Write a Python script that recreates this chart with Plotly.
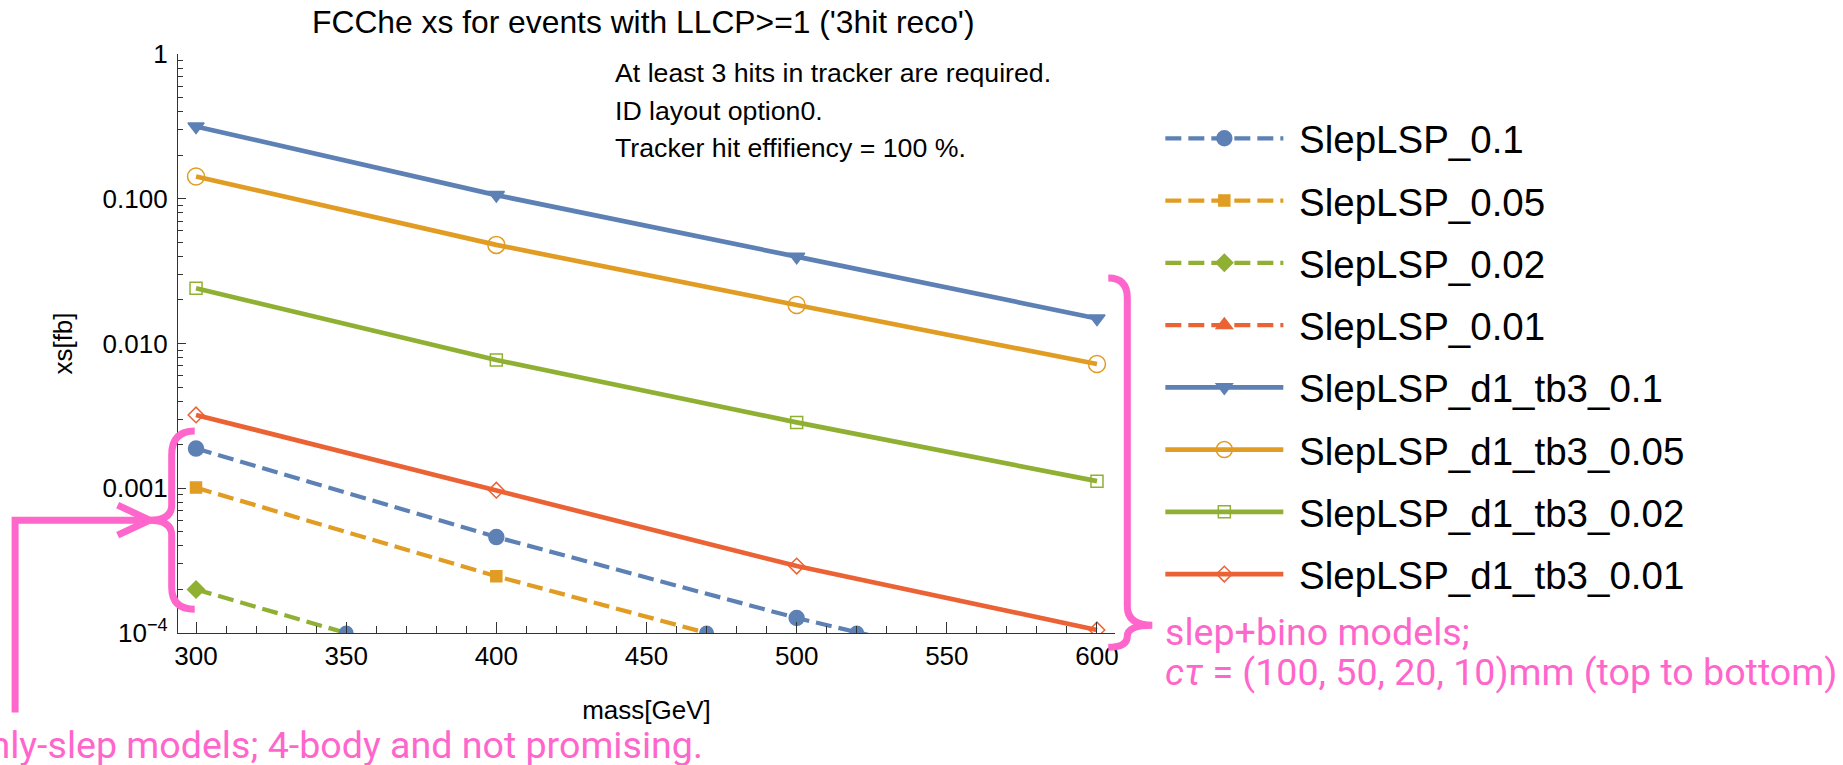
import plotly.graph_objects as go

# ---------------- data ----------------
mass = [300, 400, 500, 600]

slep_0_1 = [1.88e-3, 4.6e-4, 1.27e-4, 4.1e-5]
slep_0_05 = [1.01e-3, 2.47e-4, 6.8e-5, None]
slep_0_02 = [2.0e-4, 5.0e-5, None, None]
slep_0_01 = [None, None, None, None]

d1tb3_0_1 = [0.316, 0.106, 0.0398, 0.0149]
d1tb3_0_05 = [0.1425, 0.048, 0.01845, 0.00721]
d1tb3_0_02 = [0.0241, 0.00769, 0.00285, 0.00112]
d1tb3_0_01 = [0.00321, 9.7e-4, 2.9e-4, 1.05e-4]

axis_hit_mass = [350, 470, 520]
axis_floor = 1e-4

series_names = ["SlepLSP_0.1", "SlepLSP_0.05", "SlepLSP_0.02", "SlepLSP_0.01",
                "SlepLSP_d1_tb3_0.1", "SlepLSP_d1_tb3_0.05",
                "SlepLSP_d1_tb3_0.02", "SlepLSP_d1_tb3_0.01"]
series_values = [slep_0_1, slep_0_05, slep_0_02, slep_0_01,
                 d1tb3_0_1, d1tb3_0_05, d1tb3_0_02, d1tb3_0_01]

y_tickvals = [1e-4, 1e-3, 1e-2, 1e-1, 1]
y_ticktext = ["10<sup>\u22124</sup>", "0.001", "0.010", "0.100", "1"]
x_tickvals = [300, 350, 400, 450, 500, 550, 600]

# ---------------- styles ----------------
BLUE, ORANGE, GREEN, RED = "#5E81B5", "#E19C24", "#8FB032", "#EB6235"
PINK = "#FF66CC"
colors = [BLUE, ORANGE, GREEN, RED, BLUE, ORANGE, GREEN, RED]
symbols = ["circle", "square", "diamond", "triangle-up",
           "triangle-down", "circle-open", "square-open", "diamond-open"]
msizes = [15, 11, 13, 14, 14, 17, 12, 12]
dashes = ["16px,7px"] * 4 + ["solid"] * 4
lwidths = [4.2] * 4 + [4.7] * 4

W, H = 1843, 765
L, R, T, B = 178.3, 1114.7, 54.3, 632.7
PW, PH = R - L, B - T


def px(x):
    return (x - L) / PW


def py(y):
    return (B - y) / PH


def path(points_cmds):
    out = []
    for cmd, *pts in points_cmds:
        s = cmd
        for (x, y) in pts:
            s += f" {px(x):.5f},{py(y):.5f}"
        out.append(s)
    return " ".join(out)


fig = go.Figure()

for i, (name, vals) in enumerate(zip(series_names, series_values)):
    fig.add_trace(go.Scatter(
        x=mass, y=vals, name="\u00a0" + name, mode="lines+markers",
        legendgroup=f"g{i}",
        line=dict(color=colors[i], width=lwidths[i], dash=dashes[i]),
        marker=dict(symbol=symbols[i], size=msizes[i], color=colors[i],
                    line=dict(color=colors[i], width=1.5)),
        connectgaps=False,
    ))

fig.add_trace(go.Scatter(
    x=axis_hit_mass, y=[axis_floor] * len(axis_hit_mass), mode="markers",
    showlegend=False, marker=dict(symbol="circle", size=15, color=BLUE)))

AX_FONT = dict(family="Liberation Sans, Arial, sans-serif", size=26, color="black")
INFO_FONT = dict(family="Liberation Sans, Arial, sans-serif", size=26.7, color="black")
PINK_FONT = dict(family="Roboto, sans-serif", size=37.6, color=PINK)

fig.update_xaxes(
    range=[294, 606], showline=True, linecolor="#333333", linewidth=1.3,
    showgrid=False, zeroline=False, ticks="inside", ticklen=11, tickwidth=1.2,
    tickcolor="#333333", tickvals=x_tickvals, tickfont=AX_FONT,
    minor=dict(ticks="inside", ticklen=7, tickwidth=1, tickcolor="#333333",
               dtick=10, showgrid=False),
    title=dict(text="mass[GeV]", font=AX_FONT, standoff=30),
)
minor_y = [m * 10 ** e for e in range(-4, 0) for m in range(2, 10)]
fig.update_yaxes(
    type="log", range=[-4, 0], showline=True, linecolor="#333333", linewidth=1.3,
    showgrid=False, zeroline=False, ticks="inside", ticklen=8, tickwidth=1.2,
    tickcolor="#333333", tickvals=y_tickvals, ticktext=y_ticktext,
    tickfont=AX_FONT, ticklabelstandoff=4,
    minor=dict(ticks="inside", ticklen=4.5, tickwidth=1, tickcolor="#333333",
               tickvals=minor_y, showgrid=False),
    title=dict(text="xs[fb]", font=AX_FONT, standoff=22),
)

annotations = [
    dict(text="FCChe xs for events with LLCP>=1 ('3hit reco')",
         x=px(644), y=py(22), xanchor="center", yanchor="middle",
         font=dict(family="Liberation Sans, Arial, sans-serif", size=31.8, color="black")),
    dict(text="At least 3 hits in tracker are required.", x=px(613), y=py(73),
         xanchor="left", yanchor="middle", font=INFO_FONT),
    dict(text="ID layout option0.", x=px(613), y=py(111),
         xanchor="left", yanchor="middle", font=INFO_FONT),
    dict(text="Tracker hit effifiency = 100 %.", x=px(613), y=py(148),
         xanchor="left", yanchor="middle", font=INFO_FONT),
    dict(text="only-slep models; 4-body and not promising.", x=px(705), y=py(745),
         xanchor="right", yanchor="middle", font=PINK_FONT),
    dict(text="slep+bino models;", x=px(1163), y=py(632),
         xanchor="left", yanchor="middle", font=PINK_FONT),
    dict(text="<i>c\u03c4</i> = (100, 50, 20, 10)mm (top to bottom)", x=px(1163), y=py(672),
         xanchor="left", yanchor="middle", font=PINK_FONT),
]
for a in annotations:
    a.update(xref="paper", yref="paper", showarrow=False)

pink_line = dict(color=PINK, width=7)
left_brace = path([("M", (195, 431)), ("Q", (172, 431), (172, 455)), ("L", (172, 505)),
                   ("Q", (172, 520), (150, 520)), ("Q", (172, 520), (172, 535)),
                   ("L", (172, 587)), ("Q", (172, 609), (195, 609))])
right_brace = path([("M", (1108, 278)), ("Q", (1127, 278), (1127, 298)), ("L", (1127, 606)),
                    ("Q", (1127, 625), (1152, 625)), ("Q", (1127, 625), (1127, 636)),
                    ("Q", (1127, 647), (1108, 647))])
arrow = path([("M", (15.5, 712)), ("L", (15.5, 520)), ("L", (148, 520))])
chevron = path([("M", (118, 505)), ("L", (150, 520)), ("L", (118, 535))])
shapes = []
for p in [left_brace, right_brace, arrow, chevron]:
    shapes.append(dict(type="path", path=p, xref="paper", yref="paper",
                       line=pink_line, layer="above"))

fig.update_layout(
    width=W, height=H,
    margin=dict(l=L, r=W - R, t=T, b=H - B, autoexpand=False),
    paper_bgcolor="white", plot_bgcolor="white",
    showlegend=True,
    legend=dict(x=px(1160), y=py(107), xanchor="left", yanchor="top",
                font=dict(family="Liberation Sans, Arial, sans-serif", size=38.5, color="black"),
                itemwidth=118, tracegroupgap=9.2, bgcolor="rgba(0,0,0,0)",
                itemsizing="trace"),
    annotations=annotations,
    shapes=shapes,
)

fig.write_html("out.html")
